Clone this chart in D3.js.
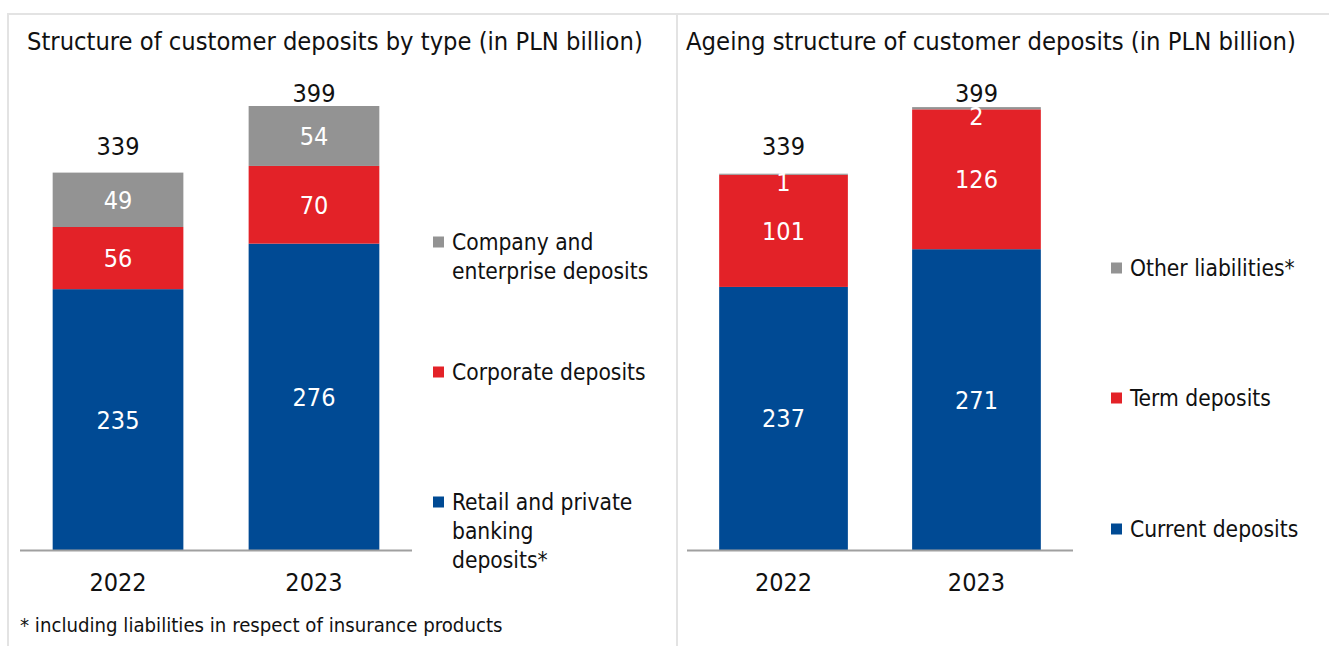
<!DOCTYPE html>
<html>
<head>
<meta charset="utf-8">
<script src="https://cdn.jsdelivr.net/npm/d3@7"></script>
<style>
  html, body { margin: 0; padding: 0; background: #fff; }
  svg { display: block; }
  text { font-family: "DejaVu Sans Condensed", "Liberation Sans Narrow", sans-serif; }
</style>
</head>
<body>
<svg id="chart" width="1329" height="646"></svg>
<script>
// ---- data ----
const years = ["2022", "2023"];

// deposits by type
const retailDeposits = [235, 276];
const corporateDeposits = [56, 70];
const companyDeposits = [49, 54];
const typeTotals = [339, 399];

// ageing structure
const currentDeposits = [237, 271];
const termDeposits = [101, 126];
const otherLiabilities = [1, 2];
const ageingTotals = [339, 399];

const typeLegend = [
  ["Company and", "enterprise deposits"],
  ["Corporate deposits"],
  ["Retail and private", "banking", "deposits*"]
];
const ageingLegend = [["Other liabilities*"], ["Term deposits"], ["Current deposits"]];

const titles = [
  "Structure of customer deposits by type (in PLN billion)",
  "Ageing structure of customer deposits (in PLN billion)"
];
const footnote = "* including liabilities in respect of insurance products";

// ---- style ----
const BLUE = "#004a94", RED = "#e32228", GRAY = "#939393";
const TOTAL_GAP = [19, 5];   // space between bar top and its total label, per column
const svg = d3.select("#chart");

// frame
const frame = svg.append("g").attr("stroke", "#e3e3e3").attr("stroke-width", 2);
frame.append("line").attr("x1", 7).attr("x2", 1329).attr("y1", 14).attr("y2", 14);
frame.append("line").attr("x1", 8).attr("x2", 8).attr("y1", 14).attr("y2", 646);
frame.append("line").attr("x1", 677).attr("x2", 677).attr("y1", 14).attr("y2", 646);

// fit a text element to a target width by adjusting font-size
function fitWidth(sel, width) {
  const node = sel.node();
  const fs = parseFloat(sel.attr("font-size"));
  const w = node.getComputedTextLength();
  if (w > 0) sel.attr("font-size", fs * width / w);
  return sel;
}

const y = d3.scaleLinear().domain([0, 400]).range([550, 106]);

function panel(opts) {
  const g = svg.append("g");
  const x = d3.scaleBand().domain(years).range(opts.xRange)
    .paddingInner(0.333).paddingOuter(0.1667);

  // title
  fitWidth(g.append("text").attr("x", opts.titleX).attr("y", 50)
    .attr("font-size", 25).attr("fill", "#111").text(opts.title), opts.titleW);

  const stack = d3.stack().keys(d3.range(opts.series.length))
    .value((d, k) => opts.series[k][d]);
  const layers = stack(d3.range(years.length));

  const lg = g.selectAll("g.layer").data(layers).join("g")
    .attr("fill", (d, i) => opts.colors[i]);
  lg.selectAll("rect").data(d => d).join("rect")
    .attr("x", (d, i) => x(years[i]))
    .attr("width", x.bandwidth())
    .attr("y", d => y(d[1]))
    .attr("height", d => y(d[0]) - y(d[1]));

  // segment labels (kept from poking above a thin segment's top)
  layers.forEach((layer, k) => {
    g.selectAll(null).data(layer).join("text")
      .attr("x", (d, i) => x(years[i]) + x.bandwidth() / 2)
      .attr("y", d => {
        const mid = (y(d[0]) + y(d[1])) / 2 + 9;
        return Math.max(mid, y(d[1]) + 17.5);
      })
      .attr("text-anchor", "middle")
      .attr("font-size", 25)
      .attr("fill", "#fff")
      .text((d, i) => opts.series[k][i]);
  });

  // totals
  g.selectAll(null).data(opts.totals).join("text")
    .attr("x", (d, i) => x(years[i]) + x.bandwidth() / 2)
    .attr("y", (d, i) => y(d) - TOTAL_GAP[i])
    .attr("text-anchor", "middle")
    .attr("font-size", 25)
    .attr("fill", "#111")
    .text(d => d);

  // category axis
  const axis = g.append("g").attr("transform", "translate(0,550)")
    .call(d3.axisBottom(x).tickSize(0).tickPadding(23));
  axis.select(".domain").attr("stroke", "#a0a0a0").attr("stroke-width", 2)
    .attr("d", `M${opts.xRange[0]},0.5H${opts.xRange[1]}`);
  axis.selectAll(".tick text").attr("font-size", 25).attr("fill", "#111")
    .attr("font-family", null);

  // legend
  opts.legend.forEach((lines, i) => {
    const ly = opts.legendY[i];
    g.append("rect").attr("x", opts.legendX).attr("y", ly - 5.5)
      .attr("width", 11).attr("height", 11).attr("fill", opts.legendColors[i]);
    lines.forEach((line, j) => {
      g.append("text").attr("x", opts.legendX + 19).attr("y", ly + 8 + j * 29)
        .attr("font-size", 22.6).attr("fill", "#111").text(line);
    });
  });
}

panel({
  xRange: [20, 412],
  series: [retailDeposits, corporateDeposits, companyDeposits],
  colors: [BLUE, RED, GRAY],
  totals: typeTotals,
  title: titles[0], titleX: 27, titleW: 616,
  legend: typeLegend,
  legendColors: [GRAY, RED, BLUE],
  legendX: 433, legendY: [242, 372, 502]
});

panel({
  xRange: [687, 1073],
  series: [currentDeposits, termDeposits, otherLiabilities],
  colors: [BLUE, RED, GRAY],
  totals: ageingTotals,
  title: titles[1], titleX: 686, titleW: 610,
  legend: ageingLegend,
  legendColors: [GRAY, RED, BLUE],
  legendX: 1111, legendY: [268, 398, 529]
});

fitWidth(svg.append("text").attr("x", 20).attr("y", 632)
  .attr("font-size", 21).attr("fill", "#111").text(footnote), 483);
</script>
</body>
</html>
